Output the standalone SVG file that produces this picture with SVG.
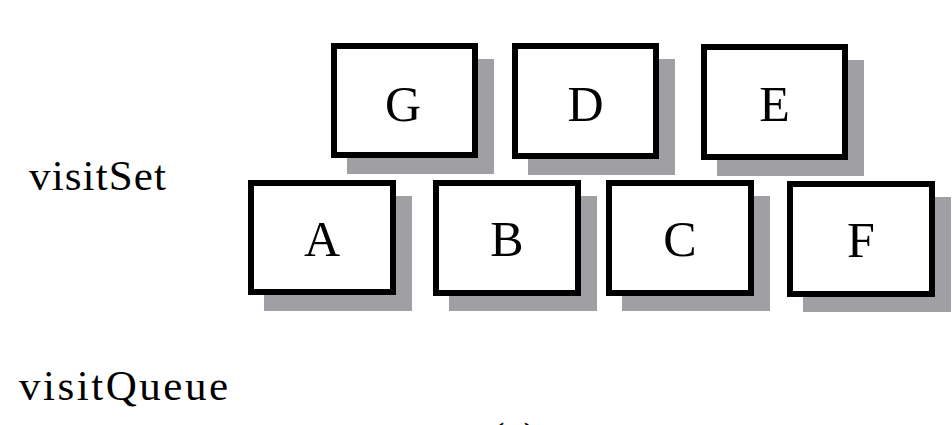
<svg xmlns="http://www.w3.org/2000/svg" width="952" height="425" viewBox="0 0 952 425">
<style>
.shadow{fill:#a0a0a4;stroke:none}
.box{fill:#ffffff;stroke:#000000;stroke-width:6}
.lbl{font-family:"Liberation Serif","Times New Roman",serif;font-size:50px;fill:#000;text-anchor:middle}
.side{font-family:"Liberation Serif","Times New Roman",serif;font-size:43px;fill:#000}
</style>
<rect width="952" height="425" fill="#ffffff"/>
<text class="side" x="29" y="189.5" textLength="137" lengthAdjust="spacing">visitSet</text>
<text class="side" x="19" y="400" textLength="209" lengthAdjust="spacing">visitQueue</text>
<g id="connectors"></g>
<g id="node-G">
<rect class="shadow" x="347" y="59" width="147" height="115"/>
<rect class="box" x="334" y="46" width="141" height="109"/>
<text class="lbl" x="403" y="120.5">G</text>
</g>
<g id="node-D">
<rect class="shadow" x="528" y="59" width="147" height="116"/>
<rect class="box" x="515" y="46" width="141" height="110"/>
<text class="lbl" x="585.5" y="120.5">D</text>
</g>
<g id="node-E">
<rect class="shadow" x="717" y="60" width="147" height="116"/>
<rect class="box" x="704" y="47" width="141" height="110"/>
<text class="lbl" x="774.5" y="121">E</text>
</g>
<g id="node-A">
<rect class="shadow" x="264" y="196" width="148" height="115"/>
<rect class="box" x="251" y="183" width="142" height="109"/>
<text class="lbl" x="322" y="256">A</text>
</g>
<g id="node-B">
<rect class="shadow" x="449" y="196" width="148" height="115"/>
<rect class="box" x="436" y="183" width="142" height="110"/>
<text class="lbl" x="507" y="256">B</text>
</g>
<g id="node-C">
<rect class="shadow" x="622" y="196" width="148" height="115"/>
<rect class="box" x="609" y="183" width="142" height="110"/>
<text class="lbl" x="680" y="256">C</text>
</g>
<g id="node-F">
<rect class="shadow" x="803" y="197" width="148" height="115"/>
<rect class="box" x="790" y="184" width="142" height="110"/>
<text class="lbl" x="861" y="257">F</text>
</g>
<text class="side" x="514" y="452" text-anchor="middle">(a)</text>
</svg>
